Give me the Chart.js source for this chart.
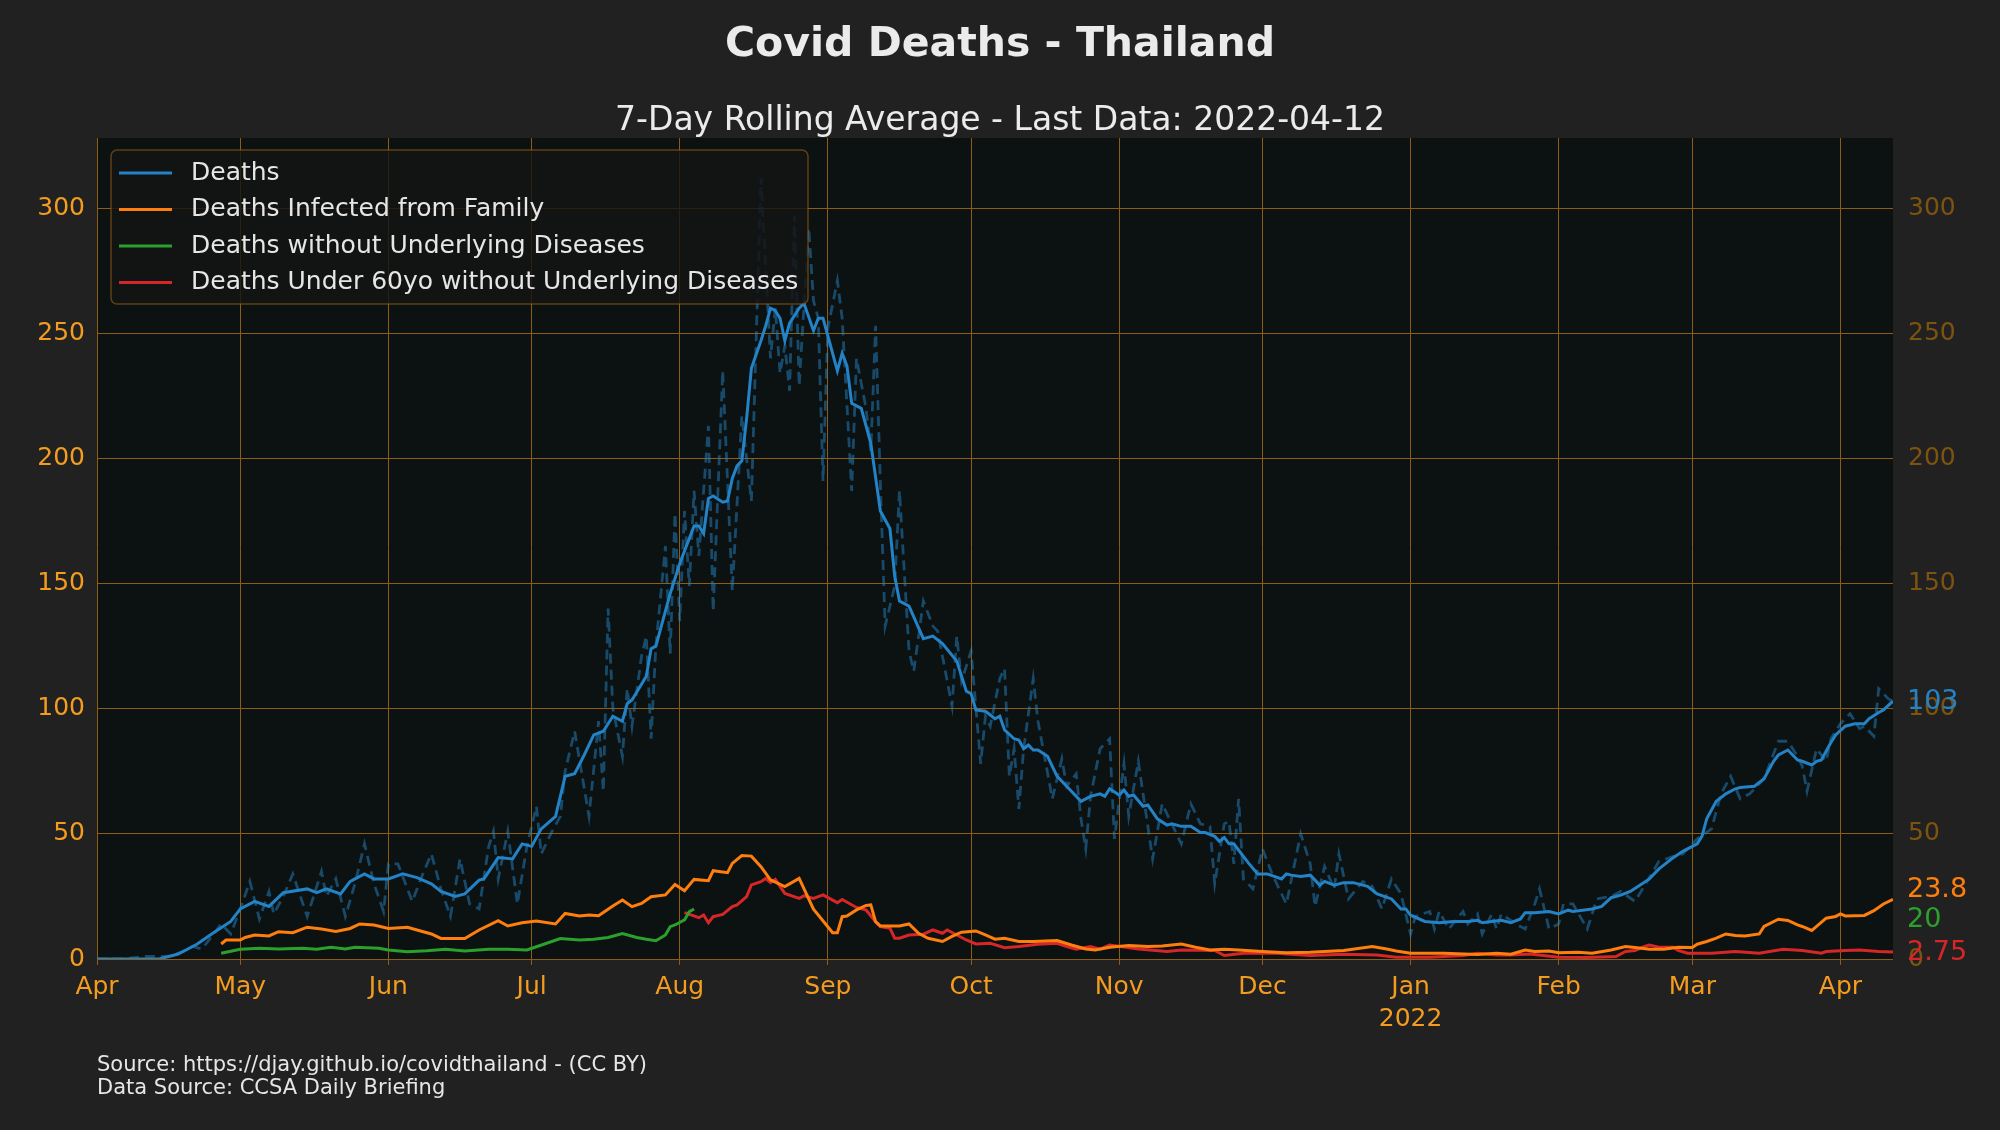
<!DOCTYPE html>
<html>
<head>
<meta charset="utf-8">
<script src="https://cdn.jsdelivr.net/npm/chart.js@4.4.1/dist/chart.umd.min.js"></script>
<style>
  html, body { margin: 0; padding: 0; background: #212121; }
  #wrap { width: 2000px; height: 1130px; }
</style>
</head>
<body>
<div id="wrap"><canvas id="chart" width="2000" height="1130"></canvas></div>
<script>
// day 0 = 2021-04-01
const monthTicks = [0, 30, 61, 91, 122, 153, 183, 214, 244, 275, 306, 334, 365];
const monthLabels = ['Apr', 'May', 'Jun', 'Jul', 'Aug', 'Sep', 'Oct', 'Nov', 'Dec', ['Jan', '2022'], 'Feb', 'Mar', 'Apr'];
const yTicks = [0, 50, 100, 150, 200, 250, 300];

// Deaths, 7-day rolling average
const avgDays = [0, 13, 17, 21, 24, 28, 30, 33, 36, 39, 44, 46, 48, 51, 53, 56, 58, 61, 64, 67, 70, 72, 75, 77, 80, 81, 84, 87, 89, 91,
  93, 96, 98, 100, 102, 104, 106, 108, 110, 111, 112, 115, 116, 117, 118, 120, 122, 124, 125, 126, 127, 128, 129, 131, 132, 133, 134, 135, 136, 137,
  139, 140, 141, 142, 143, 144, 145, 147, 148, 150, 151, 152, 153, 155, 156, 157, 158, 160, 162, 164, 166, 167, 168, 170, 173, 175, 177, 180, 182, 183,
  184, 186, 188, 189, 190, 192, 193, 194, 195, 196, 197, 199, 201, 203, 204, 206, 207, 208, 210, 211, 212, 214, 215, 216, 217, 219, 220, 222, 224, 225,
  227, 229, 231, 232, 234, 235, 236, 237, 238, 240, 241, 243, 245, 248, 249, 250, 252, 254, 256, 257, 259, 261, 263, 266, 268, 271, 273, 274, 275, 278,
  281, 284, 287, 289, 290, 292, 294, 296, 298, 299, 301, 304, 306, 308, 309, 311, 313, 315, 317, 319, 321, 323, 325, 327, 330, 332, 335, 336, 337, 339,
  341, 343, 344, 347, 349, 351, 352, 354, 356, 357, 359, 360, 361, 363, 364, 366, 368, 370, 371, 373, 374, 376];
const avgDeaths = [0, 0, 2, 6, 10, 15, 20, 23, 21, 26.5, 28, 26.5, 28, 26, 31, 34, 32, 32, 34, 32.5, 30, 27, 25, 26, 31.5, 32, 40.5, 40, 46, 45,
  52, 57, 73, 74, 81.5, 89.5, 91, 97, 95, 102, 103.5, 113, 124, 125, 132, 146, 158, 168, 173, 173, 170, 184, 185, 182.5, 183, 192, 197, 199, 216, 236,
  247, 253, 260, 259, 256, 247, 254, 260, 262, 251, 256, 256, 249, 235, 242, 237, 222, 220, 206, 179, 172, 153, 143, 141, 128, 129, 126, 119, 107, 106,
  99.5, 99, 96, 97, 91.5, 88, 87.5, 84, 85.5, 83.5, 83.5, 81, 73, 69, 67, 63, 64, 65, 66, 65, 68, 65.5, 67.5, 65, 65.5, 61, 61.5, 56, 53.5, 54,
  53, 53, 50.5, 50.5, 49, 47, 48.5, 46, 46, 41, 38.5, 34, 34, 32, 34, 33.5, 33, 33.5, 29.5, 31, 29.5, 30.5, 30.5, 29, 26, 24, 20, 20, 17.5, 15,
  14.5, 15, 15, 15.5, 14.5, 15, 15.5, 14.5, 16, 18.5, 18.5, 19, 18, 19.5, 19, 19.5, 20, 21, 24.5, 25.5, 27, 29.5, 32, 36, 40.5, 43, 46, 49, 56, 63,
  66, 68, 68.5, 69, 72, 79, 81.5, 83.5, 79.5, 79, 77.5, 79, 79.5, 86.5, 89.5, 93, 94, 94, 96, 98.5, 99.5, 103];

// Deaths, daily (dashed)
const dailyDays = [0, 5, 10, 15, 18, 20, 22, 24, 26, 28, 30, 32, 34, 36, 37, 39, 41, 44, 47, 48, 50, 52, 54, 56, 58, 60, 61, 63, 66, 68,
  70, 72, 74, 76, 78, 80, 82, 83, 84, 86, 88, 90, 92, 93, 95, 97, 98, 100, 103, 105, 106, 107, 108, 110, 111, 112, 114, 115, 116, 117,
  119, 120, 121, 122, 123, 124, 125, 126, 128, 129, 131, 133, 135, 137, 139, 141, 142, 143, 144, 145, 146, 147, 149, 150, 151, 152, 153, 155, 156, 158,
  159, 161, 162, 163, 164, 165, 167, 168, 170, 171, 173, 175, 176, 179, 180, 181, 183, 185, 186, 187, 189, 190, 191, 192, 193, 194, 196, 197, 200, 202,
  203, 205, 206, 207, 208, 210, 212, 213, 215, 216, 218, 221, 223, 227, 229, 231, 233, 234, 236, 237, 238, 239, 240, 242, 244, 246, 249, 252, 254, 255,
  257, 259, 260, 262, 265, 267, 269, 271, 273, 275, 276, 279, 280, 281, 283, 286, 287, 289, 290, 292, 293, 294, 297, 299, 301, 302, 304, 306, 307, 309,
  312, 314, 317, 319, 322, 327, 330, 332, 335, 338, 340, 342, 344, 346, 349, 352, 354, 356, 357, 358, 360, 362, 363, 365, 367, 369, 370, 372, 373, 375, 376];
const dailyDeaths = [0, 0, 1, 1, 3, 5, 4, 9, 14, 10, 20, 31, 16, 27, 18, 25, 34, 17, 35, 25, 32, 17, 30, 46, 30, 19, 38, 38, 23, 33,
  42, 28, 17, 40, 22, 20, 45, 51, 32, 51, 22, 45, 61, 42, 50, 57, 75, 91, 57, 95, 67, 140, 100, 81, 108, 93, 121, 129, 88, 125,
  165, 122, 178, 135, 179, 149, 187, 161, 213, 139, 235, 147, 217, 183, 312, 240, 260, 234, 245, 227, 297, 229, 292, 263, 256, 191, 252, 271, 256, 187,
  240, 220, 203, 253, 190, 133, 149, 187, 123, 115, 143, 133, 131, 101, 129, 111, 123, 78, 97, 93, 112, 116, 73, 84, 60, 84, 112, 95, 64, 80,
  69, 74, 56, 44, 65, 84, 88, 48, 78, 57, 79, 40, 62, 46, 62, 54, 53, 30, 54, 55, 38, 64, 32, 28, 44, 34, 22, 50, 38, 21,
  37, 28, 42, 24, 31, 29, 20, 32, 26, 10, 17, 19, 12, 19, 12, 19, 14, 18, 10, 18, 12, 18, 14, 12, 22, 28, 12, 14, 22, 22,
  12, 24, 25, 27, 23, 39, 41, 42, 48, 52, 66, 73, 64, 66, 72, 87, 87, 81, 77, 67, 84, 79, 88, 94, 98, 92, 93, 89, 108, 104, 103];

// Deaths Infected from Family
const familyDays = [26, 27, 30, 31, 33, 36, 38, 41, 44, 47, 50, 53, 55, 58, 61, 65, 67, 70, 72, 77, 80, 84, 86, 89, 92, 96, 98, 101, 103, 105,
  108, 110, 112, 114, 116, 119, 121, 123, 125, 128, 129, 132, 133, 135, 137, 139, 141, 144, 147, 150, 151, 154, 155, 156, 157, 159, 161, 162, 163, 164,
  168, 170, 172, 174, 177, 179, 181, 184, 186, 188, 190, 193, 196, 201, 204, 207, 209, 212, 216, 220, 223, 227, 230, 233, 236, 239, 244, 249, 254, 261,
  267, 270, 272, 275, 282, 289, 293, 296, 299, 301, 304, 306, 310, 313, 317, 320, 322, 325, 328, 331, 334, 335, 337, 339, 341, 343, 345, 348, 349, 352,
  354, 356, 357, 359, 360, 362, 364, 365, 366, 370, 372, 374, 376];
const familyDeaths = [6, 7.6, 7.6, 8.6, 9.6, 9.2, 10.9, 10.5, 12.7, 12, 11, 12.2, 14, 13.6, 12.2, 12.7, 11.6, 10, 8.2, 8.2, 11.6, 15.3, 13.2, 14.5, 15.2, 14, 18.2, 17.2, 17.6, 17.3,
  21.2, 23.6, 20.9, 22.2, 24.9, 25.6, 29.8, 27.3, 31.8, 31.3, 35.3, 34.5, 38.2, 41.3, 41.1, 36.9, 31.6, 28.9, 32.2, 19.9, 17.6, 10.5, 10.5, 16.9, 17.2, 19.6, 21.4, 21.6, 14.9, 13.2,
  13.2, 14, 10.3, 8.3, 7, 9, 10.7, 11.2, 9.6, 7.9, 8.3, 7, 7, 7.4, 5.6, 4, 3.6, 4.7, 5.4, 5, 5.2, 6, 4.7, 3.6, 3.9, 3.6, 3, 2.5, 2.7, 3.4,
  5, 4, 3.2, 2.3, 2.3, 1.8, 2.3, 1.9, 3.6, 3, 3.2, 2.5, 2.7, 2.3, 3.6, 5, 4.6, 3.9, 3.9, 4.7, 4.6, 5.9, 7, 8.3, 10, 9.4, 9.2, 10, 13, 15.9,
  15.4, 13.6, 13, 11.4, 13, 16.3, 17, 18, 17.2, 17.4, 19.3, 22, 23.8];

// Deaths without Underlying Diseases
const noDiseaseDays = [26, 30, 34, 38, 43, 46, 49, 52, 54, 59, 61, 65, 69, 73, 77, 82, 86, 90, 92, 97, 101, 104, 107, 110, 113, 115, 117, 119, 120, 121,
  123, 124, 125];
const noDiseaseDeaths = [2.3, 3.9, 4.3, 4, 4.3, 3.9, 4.7, 4, 4.7, 4.3, 3.6, 2.9, 3.3, 3.9, 3.2, 3.9, 3.9, 3.6, 4.9, 8.2, 7.6, 7.9, 8.6, 10.2, 8.6, 7.9, 7.3, 9.6, 12.9, 13.6,
  15.6, 18.9, 20];

// Deaths Under 60yo without Underlying Diseases
const under60Days = [123, 126, 127, 128, 129, 131, 133, 134, 136, 137, 139, 140, 141, 142, 144, 147, 148, 150, 152, 155, 156, 159, 161, 163, 164, 166, 167, 168, 170, 173,
  175, 177, 178, 180, 182, 184, 187, 190, 193, 197, 201, 203, 205, 208, 210, 212, 218, 224, 227, 234, 236, 240, 247, 254, 261, 268, 272, 279, 286, 289,
  293, 296, 300, 306, 312, 318, 320, 322, 324, 325, 327, 330, 331, 333, 338, 343, 348, 353, 357, 361, 362, 366, 369, 373, 376];
const under60Deaths = [18.5, 16.5, 17.6, 14.5, 16.9, 17.8, 20.9, 21.6, 24.9, 29.6, 30.9, 32.2, 30.5, 31.8, 26.2, 24.2, 25.2, 24.2, 25.6, 22.5, 23.8, 20.6, 19.6, 14.9, 12.9, 12.3, 8.3, 8.3, 9.6, 9.9,
  11.6, 10.3, 11.6, 9.6, 7.6, 6, 6.3, 4.5, 5, 5.9, 6.3, 5, 3.9, 5, 3.9, 5.6, 4, 3, 3.6, 3.4, 1.4, 2.3, 2.3, 1.4, 1.9, 1.6, 0.7, 0.7, 1.4, 2.3,
  1.6, 1.6, 2, 0.7, 0.6, 1, 3, 3.4, 5, 5.6, 4.7, 4.7, 3.4, 2.3, 2.3, 3, 2.3, 3.9, 3.4, 2.3, 3, 3.4, 3.6, 3, 2.75];

const BLUE = '#2383c6';
const ORANGE = '#ff7f0e';
const GREEN = '#2ca02c';
const RED = '#d62728';
const TICK = '#f39c1f';
const TICK_DIM = '#7d5310';
const GRID = '#8f5c14';
const FONT = "'DejaVu Sans', 'Liberation Sans', sans-serif";

function pts(days, vals) {
  return days.map((d, i) => ({x: d, y: vals[i]}));
}

Chart.defaults.font.family = FONT;

const series = [
  {label: 'Deaths', color: BLUE, days: avgDays, vals: avgDeaths},
  {label: 'Deaths Infected from Family', color: ORANGE, days: familyDays, vals: familyDeaths},
  {label: 'Deaths without Underlying Diseases', color: GREEN, days: noDiseaseDays, vals: noDiseaseDeaths},
  {label: 'Deaths Under 60yo without Underlying Diseases', color: RED, days: under60Days, vals: under60Deaths},
];

const datasets = series.map(s => ({
  label: s.label,
  data: pts(s.days, s.vals),
  borderColor: s.color,
  borderWidth: 3,
  pointRadius: 0,
  tension: 0,
}));
datasets.push({
  label: 'Deaths (daily)',
  data: pts(dailyDays, dailyDeaths),
  borderColor: 'rgba(35,131,198,0.5)',
  borderWidth: 2.8,
  borderDash: [10, 6],
  pointRadius: 0,
  tension: 0,
});

const decor = {
  id: 'decor',
  beforeDraw(chart) {
    const {ctx, chartArea: a} = chart;
    ctx.save();
    ctx.fillStyle = '#212121';
    ctx.fillRect(0, 0, chart.width, chart.height);
    ctx.fillStyle = '#0c1111';
    ctx.fillRect(a.left, a.top, a.right - a.left, a.bottom - a.top);
    ctx.restore();
  },
  afterDraw(chart) {
    const {ctx, chartArea: a} = chart;
    ctx.save();
    // titles
    ctx.textAlign = 'center';
    ctx.textBaseline = 'middle';
    ctx.fillStyle = '#ebebeb';
    ctx.font = 'bold 41px ' + FONT;
    ctx.fillText('Covid Deaths - Thailand', 1000, 45);
    ctx.font = '33px ' + FONT;
    ctx.fillText('7-Day Rolling Average - Last Data: 2022-04-12', 1000, 121);

    // footer
    ctx.textAlign = 'left';
    ctx.font = '21px ' + FONT;
    ctx.fillStyle = '#e6e6e6';
    ctx.fillText('Source: https://djay.github.io/covidthailand - (CC BY)', a.left, 1066);
    ctx.fillText('Data Source: CCSA Daily Briefing', a.left, 1089);

    // legend
    const lx = a.left + 14, ly = a.top + 12, lw = 697, lh = 154;
    ctx.beginPath();
    ctx.roundRect(lx, ly, lw, lh, 6);
    ctx.fillStyle = 'rgba(20,20,20,0.82)';
    ctx.fill();
    ctx.strokeStyle = 'rgba(150,95,20,0.6)';
    ctx.lineWidth = 1.5;
    ctx.stroke();
    ctx.font = '25px ' + FONT;
    series.forEach((s, i) => {
      const y = ly + 23 + i * 36.5;
      ctx.strokeStyle = s.color;
      ctx.lineWidth = 3;
      ctx.beginPath();
      ctx.moveTo(lx + 8, y);
      ctx.lineTo(lx + 61, y);
      ctx.stroke();
      ctx.fillStyle = '#e6e6e6';
      ctx.fillText(s.label, lx + 80, y);
    });

    // end-of-series value labels on the right
    const yScale = chart.scales.y;
    const labels = series.map(s => {
      const v = s.vals[s.vals.length - 1];
      return {text: String(Number(v.toPrecision(3))), color: s.color, py: yScale.getPixelForValue(v)};
    });
    labels.sort((p, q) => p.py - q.py);
    const minGap = 30;
    for (let k = 0; k < 30; k++) {
      for (let i = 0; i < labels.length - 1; i++) {
        const gap = labels[i + 1].py - labels[i].py;
        if (gap < minGap) {
          const push = (minGap - gap) / 2;
          labels[i].py -= push;
          labels[i + 1].py += push;
        }
      }
    }
    ctx.font = '27px ' + FONT;
    labels.forEach(l => {
      ctx.fillStyle = l.color;
      ctx.fillText(l.text, a.right + 14, l.py + 1);
    });
    ctx.restore();
  }
};

const yAxis = (position, color) => ({
  type: 'linear',
  position: position,
  min: 0,
  max: 328,
  afterBuildTicks: axis => { axis.ticks = yTicks.map(v => ({value: v})); },
  afterFit: axis => { axis.width = position === 'left' ? 97 : 107; },
  grid: {display: position === 'left', color: GRID, lineWidth: 1, drawTicks: false},
  border: {display: false},
  ticks: {color: color, font: {size: 25}, padding: position === 'left' ? 12 : 15},
});

new Chart(document.getElementById('chart'), {
  type: 'line',
  data: {datasets: datasets},
  options: {
    responsive: false,
    animation: false,
    layout: {padding: {top: 138, left: 0, right: 0, bottom: 0}},
    scales: {
      x: {
        type: 'linear',
        min: 0,
        max: 376,
        afterBuildTicks: axis => { axis.ticks = monthTicks.map(v => ({value: v})); },
        afterFit: axis => { axis.height = 171; },
        grid: {color: GRID, lineWidth: 1, tickLength: 6},
        border: {display: false},
        ticks: {
          color: TICK,
          font: {size: 25, lineHeight: 1.3},
          padding: 6,
          maxRotation: 0,
          autoSkip: false,
          callback: value => monthLabels[monthTicks.indexOf(value)],
        },
      },
      y: yAxis('left', TICK),
      y2: yAxis('right', TICK_DIM),
    },
    plugins: {
      legend: {display: false},
      tooltip: {enabled: false},
      title: {display: false},
    },
  },
  plugins: [decor],
});
</script>
</body>
</html>
